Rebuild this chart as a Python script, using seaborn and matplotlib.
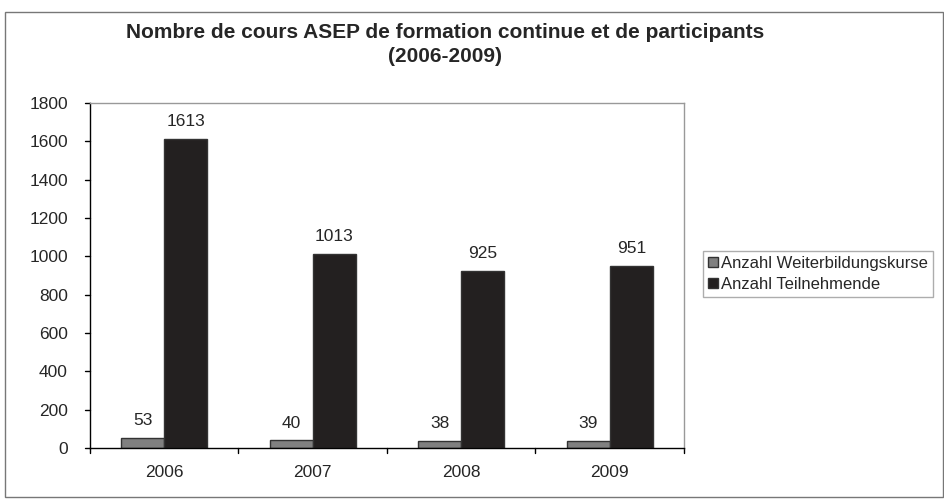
import pandas as pd
import matplotlib
matplotlib.use("Agg")
import matplotlib.pyplot as plt
import seaborn as sns
from matplotlib.patches import Rectangle

# data
years = ["2006", "2007", "2008", "2009"]
kurse = [53, 40, 38, 39]
teilnehmende = [1613, 1013, 925, 951]
series_names = ["Anzahl Weiterbildungskurse", "Anzahl Teilnehmende"]

df = pd.DataFrame({
    "Jahr": years * 2,
    "Wert": kurse + teilnehmende,
    "Serie": [series_names[0]] * 4 + [series_names[1]] * 4,
})

sns.set_style("white")
plt.rcParams["font.family"] = ["Liberation Sans", "DejaVu Sans"]

fig = plt.figure(figsize=(9.45, 4.99), dpi=100)
ax = fig.add_axes([90 / 945, 1 - 448 / 499, (684 - 90) / 945, (448 - 103) / 499])

sns.barplot(data=df, x="Jahr", y="Wert", hue="Serie",
            palette=["#808080", "#231f20"], edgecolor="#333333",
            linewidth=1, width=0.58, ax=ax, legend=True)

# value labels
for cont in ax.containers:
    ax.bar_label(cont, padding=7, fontsize=12.5)

ax.set_ylim(0, 1800)
ax.set_yticks(range(0, 1801, 200))
ax.set_xlim(-0.5, 3.5)
ax.set_xlabel("")
ax.set_ylabel("")
ax.tick_params(axis="both", labelsize=12.5, length=0)
ax.tick_params(axis="x", pad=12)
ax.tick_params(axis="y", pad=16)
for x in [-0.5, 0.5, 1.5, 2.5, 3.5]:
    ax.plot([x, x], [0, -0.015], transform=ax.get_xaxis_transform(),
            color="black", lw=1, clip_on=False)
for y in range(0, 1801, 200):
    ax.plot([-0.008, 0], [y, y], transform=ax.get_yaxis_transform(),
            color="black", lw=1, clip_on=False)

ax.spines["left"].set_color("black")
ax.spines["bottom"].set_color("black")
ax.spines["top"].set_color("#999999")
ax.spines["right"].set_color("#999999")
for s in ax.spines.values():
    s.set_linewidth(1)

leg = ax.legend(loc="upper left", bbox_to_anchor=(703 / 945, 1 - 251 / 499),
                bbox_transform=fig.transFigure, frameon=True, fancybox=False,
                fontsize=12, handlelength=0.6, handleheight=0.6,
                handletextpad=0.2, borderpad=0.3, labelspacing=0.35,
                borderaxespad=0)
leg.get_frame().set_edgecolor("#999999")
leg.get_frame().set_linewidth(1)

fig.text(445 / 945, 1 - 32 / 499, "Nombre de cours ASEP de formation continue et de participants",
         ha="center", va="center", fontsize=15, fontweight="bold")
fig.text(445 / 945, 1 - 56 / 499, "(2006-2009)",
         ha="center", va="center", fontsize=15, fontweight="bold")

# outer chart border
fig.patches.append(Rectangle((5 / 945, 2 / 499), 938 / 945, 485 / 499,
                             transform=fig.transFigure, fill=False,
                             edgecolor="#777777", lw=1))

fig.savefig("out.png", dpi=100)
